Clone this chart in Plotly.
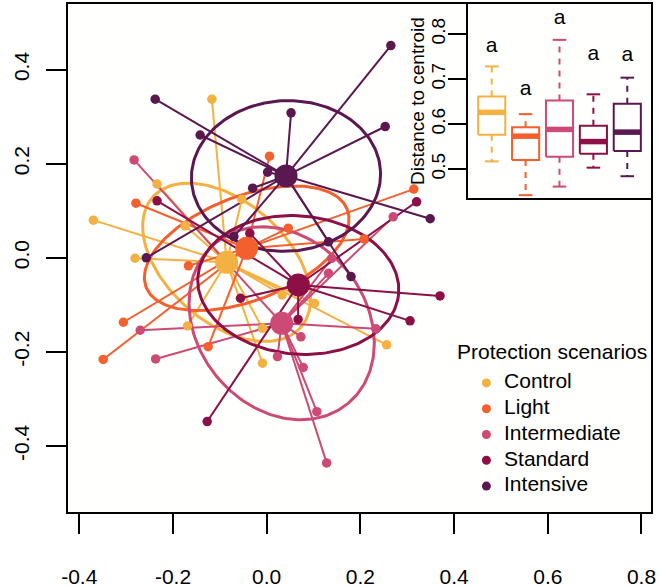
import numpy as np
import plotly.graph_objects as go

# ---------------- data ----------------
groups = ["Control", "Light", "Intermediate", "Standard", "Intensive"]
colors = ["#F3B141", "#F4602D", "#CD4A76", "#8C0F45", "#5B1750"]

control_x = [-0.117, -0.234, -0.370, -0.174, -0.281, -0.169, -0.009, -0.009, 0.033, 0.102, 0.256, -0.053]
control_y = [0.337, 0.157, 0.080, 0.068, -0.001, -0.145, -0.150, -0.224, -0.079, -0.097, -0.185, 0.124]
light_x = [0.006, -0.279, -0.167, -0.306, -0.349, -0.125, 0.208, 0.314, 0.046]
light_y = [0.216, 0.116, -0.017, -0.137, -0.216, -0.189, 0.040, 0.146, 0.063]
intermediate_x = [-0.283, -0.270, -0.237, 0.139, 0.132, 0.233, 0.073, 0.023, 0.078, 0.107, 0.128, 0.270]
intermediate_y = [0.208, -0.154, -0.215, -0.001, -0.033, -0.151, -0.168, -0.210, -0.233, -0.327, -0.436, 0.087]
standard_x = [-0.234, -0.036, -0.056, -0.127, 0.370, 0.306, 0.067, 0.320]
standard_y = [0.121, 0.052, -0.086, -0.348, -0.081, -0.134, -0.131, 0.119]
intensive_x = [-0.238, -0.142, 0.002, -0.030, -0.257, 0.265, 0.052, 0.253, 0.349, 0.132, 0.180, -0.070]
intensive_y = [0.337, 0.261, 0.182, 0.148, 0.000, 0.451, 0.308, 0.279, 0.083, 0.034, -0.040, 0.045]

points_x = [control_x, light_x, intermediate_x, standard_x, intensive_x]
points_y = [control_y, light_y, intermediate_y, standard_y, intensive_y]

centroid_x = [-0.0854, -0.0427, 0.0320, 0.0674, 0.0412]
centroid_y = [-0.0096, 0.0202, -0.1392, -0.0578, 0.1739]

# dispersion ellipses (semi-axes and orientation in degrees)
ellipse_a = [0.210, 0.230, 0.2215, 0.215, 0.202]
ellipse_b = [0.128, 0.111, 0.179, 0.147, 0.160]
ellipse_angle = [-41, 21, -50, -5, 3]

# distance to centroid (inset boxplots)
dist_lower = [0.517, 0.442, 0.461, 0.503, 0.484]
dist_q1 = [0.576, 0.520, 0.527, 0.534, 0.540]
dist_median = [0.626, 0.573, 0.588, 0.561, 0.582]
dist_q3 = [0.661, 0.593, 0.652, 0.596, 0.645]
dist_upper = [0.728, 0.622, 0.787, 0.666, 0.703]
letters = ["a", "a", "a", "a", "a"]
letter_y = [0.772, 0.676, 0.835, 0.753, 0.752]

main_ticks = [-0.4, -0.2, 0.0, 0.2, 0.4, 0.6, 0.8]
main_yticks = [-0.4, -0.2, 0.0, 0.2, 0.4]
inset_ticks = [0.5, 0.6, 0.7, 0.8]

FONT = "Liberation Sans, Arial, sans-serif"

fig = go.Figure()

# ---------------- main ordination ----------------
t = np.linspace(0, 2 * np.pi, 200)
for i, g in enumerate(groups):
    sx, sy = [], []
    for px, py in zip(points_x[i], points_y[i]):
        sx += [centroid_x[i], px, None]
        sy += [centroid_y[i], py, None]
    fig.add_trace(go.Scatter(x=sx, y=sy, mode="lines", line=dict(color=colors[i], width=2),
                             showlegend=False, hoverinfo="skip"))
    th = np.deg2rad(ellipse_angle[i])
    ex = centroid_x[i] + ellipse_a[i] * np.cos(t) * np.cos(th) - ellipse_b[i] * np.sin(t) * np.sin(th)
    ey = centroid_y[i] + ellipse_a[i] * np.cos(t) * np.sin(th) + ellipse_b[i] * np.sin(t) * np.cos(th)
    fig.add_trace(go.Scatter(x=ex, y=ey, mode="lines", line=dict(color=colors[i], width=3),
                             showlegend=False, hoverinfo="skip"))

for i, g in enumerate(groups):
    fig.add_trace(go.Scatter(x=points_x[i], y=points_y[i], mode="markers", name=g,
                             marker=dict(color=colors[i], size=9.5, line=dict(width=0)),
                             showlegend=False))
for i, g in enumerate(groups):
    fig.add_trace(go.Scatter(x=[centroid_x[i]], y=[centroid_y[i]], mode="markers",
                             marker=dict(color=colors[i], size=23, line=dict(width=0)),
                             showlegend=False))

# ---------------- inset boxplots ----------------
hw = 0.4
for i, g in enumerate(groups):
    c = i + 1
    col = colors[i]
    fig.add_trace(go.Scatter(x=[c - hw, c + hw, c + hw, c - hw, c - hw],
                             y=[dist_q1[i], dist_q1[i], dist_q3[i], dist_q3[i], dist_q1[i]],
                             mode="lines", line=dict(color=col, width=2),
                             xaxis="x2", yaxis="y2", showlegend=False, hoverinfo="skip"))
    fig.add_trace(go.Scatter(x=[c - hw, c + hw], y=[dist_median[i]] * 2, mode="lines",
                             line=dict(color=col, width=5.5), xaxis="x2", yaxis="y2",
                             showlegend=False, hoverinfo="skip"))
    fig.add_trace(go.Scatter(x=[c, c, None, c, c],
                             y=[dist_q3[i], dist_upper[i], None, dist_q1[i], dist_lower[i]],
                             mode="lines", line=dict(color=col, width=2, dash="6px,6px"),
                             xaxis="x2", yaxis="y2", showlegend=False, hoverinfo="skip"))
    fig.add_trace(go.Scatter(x=[c - hw / 2, c + hw / 2, None, c - hw / 2, c + hw / 2],
                             y=[dist_upper[i], dist_upper[i], None, dist_lower[i], dist_lower[i]],
                             mode="lines", line=dict(color=col, width=2),
                             xaxis="x2", yaxis="y2", showlegend=False, hoverinfo="skip"))
fig.add_trace(go.Scatter(x=[i + 1 for i in range(len(groups))], y=letter_y, mode="text",
                         text=letters, textfont=dict(size=21, color="black", family=FONT),
                         xaxis="x2", yaxis="y2", showlegend=False, hoverinfo="skip",
                         cliponaxis=False))

# ---------------- legend ----------------
fig.add_trace(go.Scatter(x=[0] * len(groups), y=list(range(len(groups))), mode="markers",
                         marker=dict(color=colors, size=9), xaxis="x3", yaxis="y3",
                         showlegend=False, hoverinfo="skip", cliponaxis=False))
fig.add_trace(go.Scatter(x=[0.12] * len(groups), y=list(range(len(groups))), mode="text",
                         text=groups, textposition="middle right",
                         textfont=dict(size=21, color="black", family=FONT),
                         xaxis="x3", yaxis="y3", showlegend=False, hoverinfo="skip",
                         cliponaxis=False))

axis_common = dict(showline=True, mirror=True, linecolor="black", linewidth=1.5,
                   ticks="outside", tickcolor="black", tickwidth=1.5,
                   showgrid=False, zeroline=False, automargin=False,
                   tickfont=dict(size=21, color="black", family=FONT))

fig.update_layout(
    width=661, height=587,
    margin=dict(l=68, r=10, t=4, b=75),
    paper_bgcolor="white", plot_bgcolor="#fffffe",
    showlegend=False,
    font=dict(family=FONT, color="black"),
    xaxis=dict(range=[-0.4241, 0.8203], tickvals=main_ticks,
               ticktext=[f"{v:.1f}" for v in main_ticks], ticklen=20,
               ticklabelstandoff=25, **axis_common),
    yaxis=dict(range=[-0.5403, 0.5394], tickvals=main_yticks,
               ticktext=[f"{v:.1f}" for v in main_yticks], ticklen=20, tickangle=-90,
               ticklabelstandoff=9, **axis_common),
    xaxis2=dict(domain=[0.6861, 1.0], range=[0.3, 5.7], anchor="y2", automargin=False,
                showline=True, mirror=True, linecolor="black", linewidth=1.5,
                showticklabels=False, ticks="", showgrid=False, zeroline=False),
    yaxis2=dict(domain=[0.6181, 1.0], range=[0.4356, 0.8667], anchor="x2", automargin=False,
                tickvals=inset_ticks, ticktext=[f"{v:.1f}" for v in inset_ticks],
                ticklen=18, tickangle=-90, ticklabelstandoff=-4,
                showline=True, mirror=True, linecolor="black", linewidth=1.5,
                ticks="outside", tickcolor="black", tickwidth=1.5,
                showgrid=False, zeroline=False,
                tickfont=dict(size=19, color="black", family=FONT)),
    xaxis3=dict(domain=[0.70, 0.97], range=[-0.07, 1], anchor="y3", visible=False),
    yaxis3=dict(domain=[0.0256, 0.2795], range=[4.5, -0.5], anchor="x3", visible=False),
    annotations=[
        dict(text="Protection scenarios", xref="paper", yref="paper",
             x=0.6638, y=0.315, xanchor="left", yanchor="middle", showarrow=False,
             font=dict(size=21, color="black", family=FONT)),
        dict(text="Distance to centroid", xref="paper", yref="paper",
             x=(417 - 68) / 583, y=0.809, xanchor="center", yanchor="middle",
             textangle=-90, showarrow=False,
             font=dict(size=19, color="black", family=FONT)),
    ],
)

fig.write_html("out.html")
